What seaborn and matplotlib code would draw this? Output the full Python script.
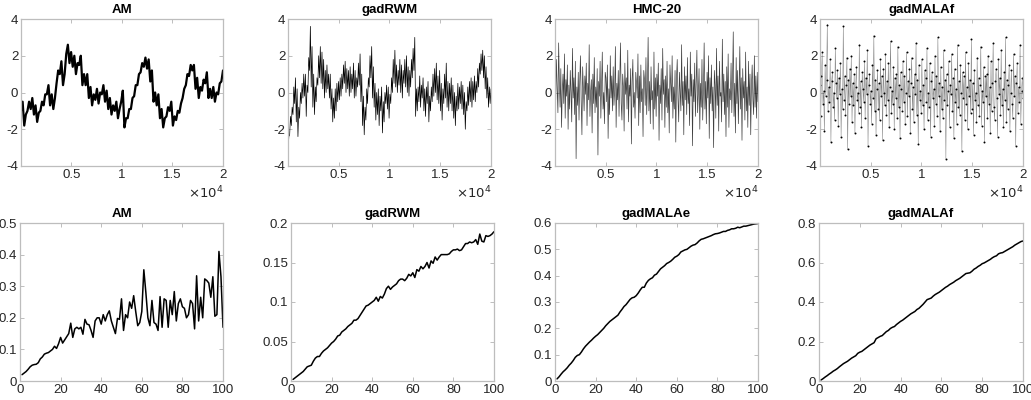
import numpy as np
import matplotlib
matplotlib.use("Agg")
import matplotlib.pyplot as plt
import seaborn as sns

# ---------------- data ----------------
# Top row: trace plots (lower / upper edge of the local band, or raw samples)
am_low = [-1.0, -1.8, -1.0, -0.9, -1.2, -1.6, -1.0, -0.7, -0.1, -0.7,
          -0.9, 0.5, 1.0, 0.4, 2.1, 1.6, 1.4, 1.0, 1.5, 0.4,
          0.4, -0.3, -0.7, -0.4, -0.6, -0.1, -0.5, -0.9, -1.2, -1.0,
          -1.4, -0.5, -1.9, -1.4, -0.9, -0.2, 0.4, 1.1, 1.4, 1.3,
          0.6, -0.5, -0.7, -1.4, -1.9, -1.3, -1.0, -1.8, -1.5, -1.1,
          -0.3, 0.4, 0.9, 1.2, 0.2, -0.3, 0.1, 0.5, -0.3, -0.3,
          -0.5, -0.1, 0.6]
am_high = [-0.5, -1.2, -0.5, -0.3, -0.7, -1.1, -0.5, -0.1, 0.4, -0.1,
           -0.3, 1.2, 1.7, 1.0, 2.6, 2.2, 2.0, 1.6, 2.0, 1.0,
           1.0, 0.3, -0.1, 0.2, 0.0, 0.4, 0.1, -0.3, -0.7, -0.5,
           -0.9, 0.1, -1.4, -0.9, -0.3, 0.4, 1.0, 1.6, 1.9, 1.8,
           1.2, 0.0, -0.1, -0.9, -1.4, -0.8, -0.5, -1.3, -1.0, -0.6,
           0.2, 1.0, 1.5, 1.5, 0.8, 0.3, 0.7, 1.1, 0.2, 0.3,
           0.0, 0.5, 1.2]

rwm_low = [-3.2, -2.3, -1.8, -1.2, -0.6, -1.6, -2.4, -1.4, -0.6, -0.3, -0.2, -1.3, 0.0, 1.2, 0.3,
           -0.8, -1.2, -0.5, 0.4, 0.8, 0.5, 0.2, -0.3, 0.0, 0.2, -0.3, -0.9, -1.6, -1.4, -1.0,
           -0.5, -0.4, -0.2, 0.2, 0.5, 0.0, 0.2, -0.2, 0.0, 0.2, -0.3, -0.2, 0.3, 0.4, -0.5,
           -1.8, -2.3, -1.5, -0.6, 0.3, 0.8, -0.3, -0.8, -1.5, -1.2, -1.8, -1.0, -2.2, -1.6,
           -0.6, -0.9, -1.4, -0.6, 0.0, 0.5, 0.3, 0.0, 0.4, 0.0, -0.3, 0.5, 0.3, 0.0, -0.2,
           0.3, 0.8, 1.2, -1.3, -1.0, -0.5, -0.8, -0.3, -1.0, -1.3, -0.6, -1.6, -1.0, -0.5,
           -0.2, 0.0, -0.4, -0.6, -1.0, -1.5, -0.6, -0.3, -0.8, -1.0, -0.6, -1.0, -1.4, -1.8,
           -1.0, -0.9, -0.6, -0.9, -1.2, -2.0, -1.0, -0.7, -0.5, -0.8, -0.4, -0.5, 0.0, 0.3,
           1.0, 1.2, 0.8, 0.2, -0.3, -0.8, -0.6]
rwm_high = [-2.4, -1.3, -0.8, 0.3, 0.8, 0.2, -0.8, 0.0, 0.5, 1.0, 1.0, 0.4, 1.9, 3.6, 2.5,
            1.0, 0.3, 0.8, 2.0, 2.5, 2.2, 1.8, 1.2, 1.5, 1.0, 1.0, 0.2, -0.3, 0.2, 0.5,
            0.6, 0.8, 1.0, 1.5, 1.7, 1.3, 1.2, 1.4, 1.0, 1.6, 1.2, 0.8, 1.6, 2.1, 1.0,
            -0.2, -0.8, 0.2, 0.8, 2.0, 2.5, 1.4, 0.5, 0.0, 0.2, -0.2, 0.3, -0.5, 0.0,
            0.4, 0.3, -0.1, 0.8, 1.8, 2.3, 1.5, 1.2, 1.8, 1.5, 1.2, 1.8, 2.0, 1.4, 1.2,
            1.8, 2.4, 3.0, 0.2, 0.3, 0.9, 0.4, 0.8, 0.2, 0.3, 0.6, -0.2, 0.3, 1.0,
            1.3, 1.6, 0.9, 1.2, 0.5, 0.2, 1.0, 1.6, 0.6, 0.5, 0.8, 0.4, 0.0, -0.2,
            0.5, 0.3, 0.6, 0.4, 0.0, -0.5, 0.3, 0.6, 0.8, 0.6, 0.9, 0.6, 1.3, 1.6,
            2.1, 2.3, 2.0, 1.4, 0.8, 0.3, 0.2]

hmc_vals = [0.9, -0.4, 1.8, 0.2, -1.1, 2.7, 0.5, -0.8, 1.3, -1.9, 0.1, 1.0, -0.6, 2.1, -1.4, 0.7, -0.2, 1.5, -2.0, 0.4,
            -0.9, 1.2, 0.0, -1.6, 2.4, -0.3, 0.8, -1.2, 1.7, -3.6, 0.3, -0.7, 1.1, -1.5, 0.6, 2.0, -0.5, -2.3, 1.4, 0.2,
            -1.0, 0.9, -0.1, 1.6, -1.8, 0.5, -0.4, 2.6, -1.3, 0.1, 0.7, -2.2, 1.0, -0.6, 1.9, -1.1, 0.3, -0.8, 1.3, -3.4,
            0.6, -0.2, 1.7, -1.4, 0.4, 2.2, -0.9, 0.0, -1.7, 1.1, 0.8, -0.5, 1.5, -2.5, 0.2, -1.2, 2.0, -0.3, 0.9, -1.0,
            1.4, -0.7, 0.1, 2.5, -1.9, 0.5, -0.4, 1.2, -1.3, 0.7, 2.7, -0.6, -1.5, 1.0, 0.3, -2.1, 1.6, -0.1, 0.8, -0.9,
            2.3, -1.6, 0.4, -0.2, 1.3, -2.8, 0.6, 1.8, -0.8, 0.0, -1.4, 1.1, 0.5, -0.3, 2.1, -1.8, 0.9, -1.1, 1.5, -0.5,
            0.2, -2.4, 1.2, 0.7, -0.7, 1.9, -1.2, 0.3, 3.0, -1.0, 0.6, -1.7, 1.4, -0.4, 0.1, -2.0, 2.2, -0.9, 0.8, -1.3,
            1.0, -0.2, 1.6, -2.6, 0.4, -0.6, 1.3, -1.5, 2.4, -0.1, 0.7, -1.9, 0.9, -0.8, 1.7, -1.1, 0.2, -2.2, 1.5, 0.5,
            -0.5, 2.0, -1.4, 0.3, -0.9, 1.2, -2.7, 0.8, 1.8, -0.3, -1.6, 1.1, 0.0, -1.0, 2.6, -0.7, 0.6, -2.3, 1.4, -0.4,
            0.9, -1.2, 1.9, -0.6, 0.2, -1.8, 2.2, -0.2, 1.0, -2.9, 0.7, -0.5, 1.6, -1.3, 0.4, 2.3, -1.1, -0.1, 1.3, -2.0,
            0.5, -0.8, 1.8, -1.5, 0.1, 2.7, -0.9, 0.6, -1.7, 1.1, -0.3, 2.0, -2.5, 0.8, -0.6, 1.5, -1.0, 0.3, -3.0, 1.2,
            0.4, -1.4, 2.4, -0.7, 0.9, -2.1, 1.7, -0.2, 0.0, -1.6, 2.9, -0.5, 1.0, -1.2, 0.6, -2.4, 1.4, -0.8, 2.1, -1.9,
            0.2, -0.4, 1.6, -1.1, 0.7, 3.3, -1.3, 0.5, -2.2, 1.9, -0.6, 1.2, -1.7, 0.1, 2.5, -0.9, 0.8, -2.6, 1.3, -0.3,
            0.6, -1.5, 2.2, -1.0, 0.3, -1.9, 1.7, -0.7, 1.0, -2.3, 0.4, 1.5, -0.4, -1.2, 2.0, -0.8, 0.9, -1.4, 1.1, -0.5]

maf_vals = [0.4, -1.3, 0.9, 2.2, -0.6, 0.1, -2.1, 1.5, -0.2, 0.7, 3.7, -1.0, 0.3, -0.5, 1.8, -2.7, 0.6, 1.1, -0.8, 0.0,
            -1.5, 2.4, 0.5, -0.3, 1.2, -1.8, 0.8, -0.1, 1.6, -2.4, 0.2, -0.9, 3.6, -0.4, 0.9, -1.2, 0.4, 1.9, -3.1, 0.7,
            -0.6, 1.3, -0.2, 2.0, -1.6, 0.5, -0.7, 1.0, -2.2, 0.3, 1.4, -0.4, 0.0, -1.1, 2.6, -0.8, 0.6, -1.9, 1.1, 0.2,
            -0.5, 1.7, -1.4, 0.8, -0.1, 2.3, -2.9, 0.4, 1.0, -0.6, 0.1, -1.7, 1.5, -0.3, 3.1, -1.0, 0.7, -2.3, 0.2, 1.2,
            -0.9, 0.5, -1.5, 1.8, -0.2, 0.9, -2.6, 1.3, 0.0, -0.7, 2.1, -1.2, 0.6, -0.4, 1.6, -1.9, 0.3, 2.8, -1.1, 0.1,
            -0.6, 1.4, -2.0, 0.8, -0.3, 1.0, -1.4, 2.5, -0.8, 0.4, -2.5, 1.1, 0.2, -1.0, 1.7, -0.5, 0.9, -1.7, 0.0, 2.2,
            -1.3, 0.6, -0.2, 1.3, -2.2, 0.5, 1.9, -0.9, 0.3, -1.6, 1.0, -0.1, 2.7, -1.2, 0.7, -2.8, 1.5, -0.4, 0.1, -1.1,
            1.8, -0.7, 0.4, -2.0, 1.2, 0.8, -0.5, 2.4, -1.5, 0.0, -0.8, 1.6, -2.4, 0.6, 1.1, -0.3, 0.2, -1.8, 2.0, -0.6,
            0.9, -1.3, 3.0, -0.2, 0.5, -2.1, 1.4, -0.9, 0.3, -1.4, 2.3, -0.4, 0.7, -3.6, 1.0, -0.7, 0.1, 1.7, -1.9, 0.4,
            -0.1, 2.1, -1.0, 0.8, -2.5, 1.3, -0.5, 0.2, -1.7, 2.6, -0.8, 0.6, -1.2, 1.5, 0.0, -3.2, 1.1, -0.3, 0.9, -1.5,
            2.2, -0.6, 0.3, -2.0, 1.6, -0.2, 0.7, -1.1, 2.9, -0.9, 0.5, -2.3, 1.2, -0.4, 0.0, -1.6, 1.9, -0.7, 0.8, -1.3,
            0.4, 2.5, -1.8, 0.1, -0.5, 1.4, -2.7, 0.9, -0.2, 1.0, -1.4, 2.0, -0.6, 0.3, -2.2, 1.7, -1.0, 0.5, 2.7, -0.8,
            -1.5, 0.6, 1.3, -0.3, -2.4, 1.8, -0.1, 0.8, -1.2, 2.3, -0.7, 0.2, -1.9, 1.1, -0.4, 3.0, -1.6, 0.7, -0.9, 0.4,
            1.5, -2.1, 0.0, 1.2, -0.6, -1.4, 2.1, -0.2, 0.9, -2.9, 0.5, 1.6, -1.1, 0.3, -0.5, 2.6, -1.7, 0.1, 0.8, -0.3]

# Bottom row: curves over lag 1..100
lags = list(range(1, 101))
am_acf = [0.020, 0.025, 0.030, 0.037, 0.045, 0.050, 0.052, 0.053, 0.058, 0.070,
          0.076, 0.085, 0.088, 0.090, 0.095, 0.100, 0.110, 0.103, 0.118, 0.138,
          0.120, 0.130, 0.140, 0.150, 0.183, 0.138, 0.165, 0.170, 0.165, 0.170,
          0.148, 0.195, 0.180, 0.178, 0.160, 0.138, 0.190, 0.200, 0.200, 0.180,
          0.210, 0.190, 0.210, 0.222, 0.190, 0.170, 0.150, 0.198, 0.195, 0.260,
          0.160, 0.210, 0.200, 0.250, 0.230, 0.270, 0.220, 0.175, 0.185, 0.220,
          0.352, 0.280, 0.200, 0.175, 0.255, 0.185, 0.180, 0.160, 0.267, 0.170,
          0.260, 0.255, 0.170, 0.255, 0.210, 0.283, 0.190, 0.245, 0.260, 0.235,
          0.230, 0.200, 0.210, 0.255, 0.245, 0.165, 0.333, 0.190, 0.265, 0.200,
          0.323, 0.318, 0.310, 0.265, 0.330, 0.205, 0.210, 0.410, 0.330, 0.170]
rwm_acf = [0.002, 0.004, 0.006, 0.008, 0.010, 0.012, 0.015, 0.018, 0.019, 0.020,
           0.025, 0.029, 0.031, 0.031, 0.035, 0.038, 0.040, 0.042, 0.045, 0.048,
           0.050, 0.053, 0.057, 0.058, 0.062, 0.064, 0.066, 0.069, 0.071, 0.073,
           0.077, 0.077, 0.079, 0.083, 0.087, 0.091, 0.095, 0.096, 0.098, 0.100,
           0.102, 0.106, 0.101, 0.107, 0.105, 0.110, 0.117, 0.120, 0.116, 0.119,
           0.121, 0.123, 0.127, 0.129, 0.129, 0.127, 0.130, 0.135, 0.133, 0.137,
           0.131, 0.141, 0.139, 0.145, 0.142, 0.145, 0.150, 0.143, 0.152, 0.149,
           0.157, 0.153, 0.157, 0.160, 0.160, 0.160, 0.160, 0.161, 0.164, 0.166,
           0.166, 0.167, 0.165, 0.166, 0.170, 0.174, 0.174, 0.176, 0.175, 0.176,
           0.179, 0.173, 0.186, 0.177, 0.176, 0.184, 0.183, 0.184, 0.186, 0.189]
malae_acf = [0.008, 0.016, 0.026, 0.035, 0.042, 0.050, 0.060, 0.068, 0.078, 0.090,
             0.097, 0.100, 0.110, 0.122, 0.132, 0.140, 0.148, 0.155, 0.163, 0.170,
             0.176, 0.184, 0.192, 0.200, 0.210, 0.218, 0.226, 0.232, 0.238, 0.244,
             0.250, 0.262, 0.272, 0.283, 0.290, 0.300, 0.310, 0.316, 0.318, 0.324,
             0.334, 0.346, 0.356, 0.356, 0.372, 0.382, 0.388, 0.392, 0.402, 0.406,
             0.416, 0.426, 0.432, 0.438, 0.446, 0.450, 0.455, 0.462, 0.470, 0.474,
             0.480, 0.490, 0.494, 0.498, 0.500, 0.506, 0.512, 0.516, 0.518, 0.524,
             0.532, 0.538, 0.540, 0.543, 0.546, 0.549, 0.552, 0.556, 0.559, 0.560,
             0.562, 0.565, 0.568, 0.568, 0.572, 0.574, 0.578, 0.578, 0.580, 0.584,
             0.582, 0.585, 0.588, 0.588, 0.590, 0.592, 0.594, 0.596, 0.597, 0.598]
malaf_acf = [0.005, 0.012, 0.020, 0.027, 0.035, 0.042, 0.050, 0.056, 0.063, 0.072,
             0.080, 0.088, 0.094, 0.100, 0.108, 0.116, 0.122, 0.128, 0.140, 0.146,
             0.150, 0.158, 0.166, 0.174, 0.182, 0.188, 0.194, 0.214, 0.220, 0.226,
             0.230, 0.240, 0.250, 0.256, 0.266, 0.272, 0.276, 0.286, 0.294, 0.302,
             0.308, 0.316, 0.324, 0.332, 0.340, 0.346, 0.352, 0.362, 0.368, 0.378,
             0.388, 0.400, 0.412, 0.416, 0.420, 0.430, 0.438, 0.444, 0.450, 0.458,
             0.466, 0.474, 0.480, 0.488, 0.494, 0.500, 0.508, 0.514, 0.520, 0.528,
             0.536, 0.544, 0.546, 0.548, 0.556, 0.566, 0.572, 0.580, 0.586, 0.594,
             0.598, 0.604, 0.610, 0.616, 0.624, 0.630, 0.634, 0.644, 0.648, 0.650,
             0.656, 0.662, 0.668, 0.674, 0.680, 0.688, 0.694, 0.700, 0.706, 0.709]

top_titles = ["AM", "gadRWM", "HMC-20", "gadMALAf"]
bottom_titles = ["AM", "gadRWM", "gadMALAe", "gadMALAf"]
bottom_ylims = [0.5, 0.2, 0.6, 0.8]
bottom_yticks = [[0, 0.1, 0.2, 0.3, 0.4, 0.5],
                 [0, 0.05, 0.1, 0.15, 0.2],
                 [0, 0.1, 0.2, 0.3, 0.4, 0.5, 0.6],
                 [0, 0.2, 0.4, 0.6, 0.8]]
bottom_yticklabels = [["0", "0.1", "0.2", "0.3", "0.4", "0.5"],
                      ["0", "0.05", "0.1", "0.15", "0.2"],
                      ["0", "0.1", "0.2", "0.3", "0.4", "0.5", "0.6"],
                      ["0", "0.2", "0.4", "0.6", "0.8"]]

# ---------------- styling ----------------
sns.set_theme(style="white")
plt.rcParams["font.family"] = ["Liberation Sans", "DejaVu Sans"]
TXT = "#262626"
BOX = "#bdbdbd"

W, H = 1031, 400
fig = plt.figure(figsize=(W / 100, H / 100), dpi=100)


def px_axes(x0, x1, y0, y1):
    return fig.add_axes([x0 / W, 1 - y1 / H, (x1 - x0) / W, (y1 - y0) / H])


def style(ax):
    for s in ax.spines.values():
        s.set_color(BOX)
        s.set_linewidth(0.9)
    ax.tick_params(direction="in", length=3, width=0.7, color=BOX, labelcolor=TXT,
                   labelsize=9.5, top=True, right=True, pad=2,
                   bottom=True, left=True)
    ax.set_xlabel("")
    ax.set_ylabel("")


def zigzag(low, high):
    out = []
    for a, b in zip(low, high):
        out.extend([a, b])
    return out


top_cols = [(21, 223), (288, 491), (555, 758), (820, 1023)]
bot_cols = [(20, 223), (291, 494), (555, 758), (819, 1023)]

am_series = zigzag(am_low, am_high)
rwm_series = zigzag(rwm_low, rwm_high)
# (series, line width, line alpha, dot size)
top_data = [
    (am_series, 1.6, 1.0, 0),
    (rwm_series, 0.5, 1.0, 0),
    (hmc_vals, 0.5, 0.75, 0),
    (maf_vals, 0.35, 0.5, 2.0),
]

for (x0, x1), (ys, lw, alpha, ds), title in zip(top_cols, top_data, top_titles):
    ax = px_axes(x0, x1, 19, 166)
    xs = np.linspace(1, 20000, len(ys))
    sns.lineplot(x=xs, y=ys, ax=ax, color="black", linewidth=lw, alpha=alpha,
                 estimator=None, sort=False)
    if ds:
        sns.scatterplot(x=xs, y=ys, ax=ax, color="black", s=ds, linewidth=0)
    ax.set_xlim(1, 20000)
    ax.set_ylim(-4, 4)
    ax.set_xticks([5000, 10000, 15000, 20000])
    ax.set_xticklabels(["0.5", "1", "1.5", "2"])
    ax.set_yticks([-4, -2, 0, 2, 4])
    ax.set_yticklabels(["-4", "-2", "0", "2", "4"])
    style(ax)
    ax.set_title(title, fontsize=9.5, fontweight="bold", color="black", pad=4)
    ax.text(1.0, -0.125, r"$\times10^{4}$", transform=ax.transAxes, ha="right",
            va="top", fontsize=9.5, color=TXT)

bottom_series = [am_acf, rwm_acf, malae_acf, malaf_acf]
for (x0, x1), ys, title, ym, yt, ytl in zip(bot_cols, bottom_series, bottom_titles,
                                           bottom_ylims, bottom_yticks, bottom_yticklabels):
    ax = px_axes(x0, x1, 223, 381)
    sns.lineplot(x=lags, y=ys, ax=ax, color="black", linewidth=1.1,
                 estimator=None, sort=False)
    ax.set_xlim(0, 100)
    ax.set_ylim(0, ym)
    ax.set_xticks([0, 20, 40, 60, 80, 100])
    ax.set_xticklabels(["0", "20", "40", "60", "80", "100"])
    ax.set_yticks(yt)
    ax.set_yticklabels(ytl)
    style(ax)
    ax.set_title(title, fontsize=9.5, fontweight="bold", color="black", pad=4)

fig.savefig("out.png", dpi=100)
